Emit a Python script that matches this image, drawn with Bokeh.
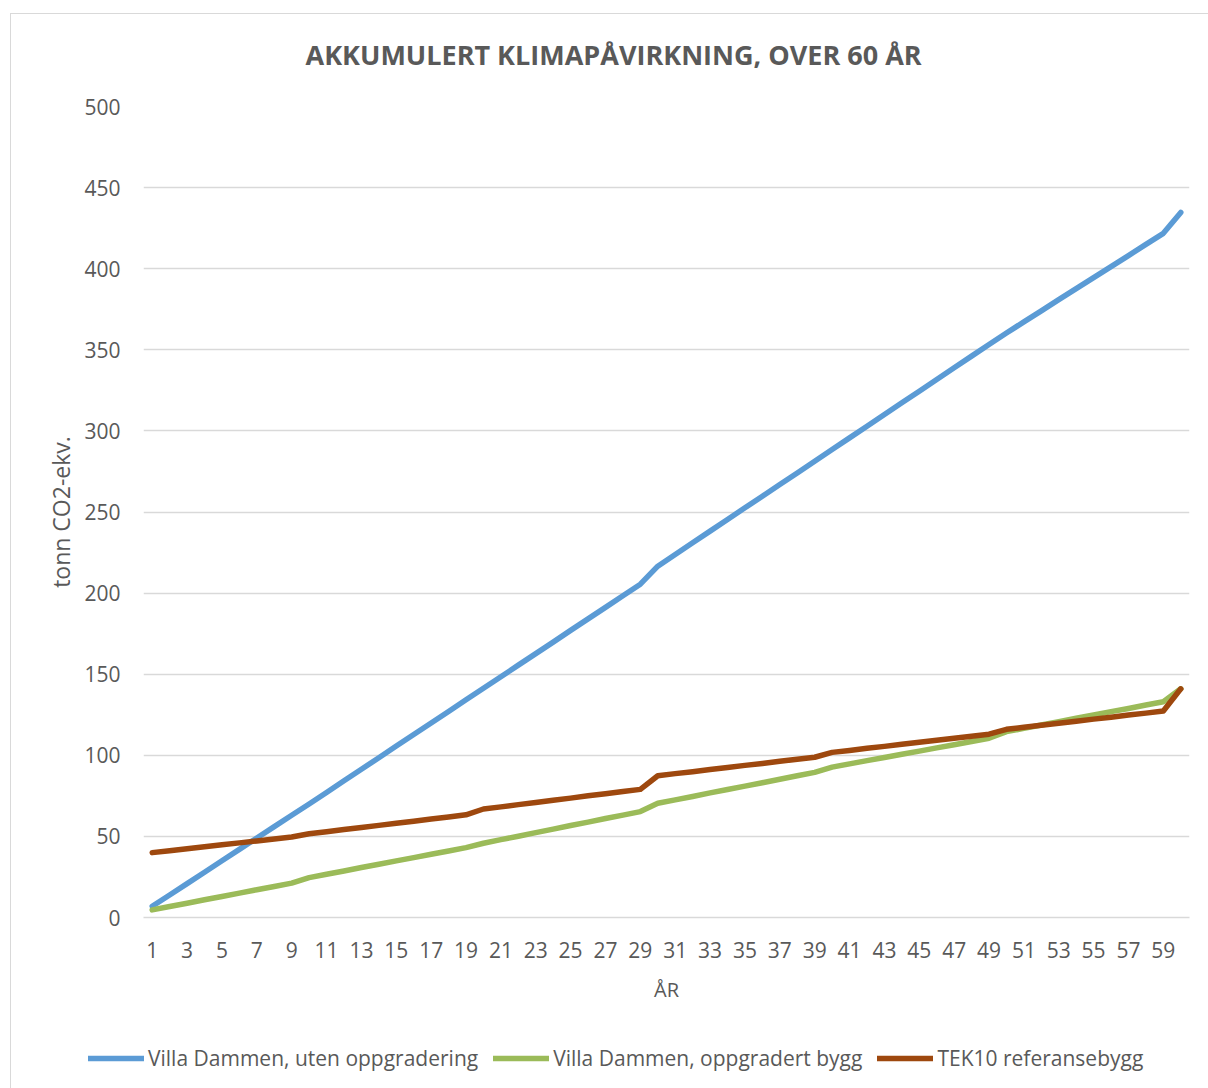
from bokeh.plotting import figure
from bokeh.models import Range1d, FixedTicker, Legend, LegendItem, Title
from bokeh.embed import file_html
from bokeh.resources import INLINE

title_text = "AKKUMULERT KLIMAPÅVIRKNING, OVER 60 ÅR"
x_label = "ÅR"
y_label = "tonn CO2-ekv."
series_names = ["Villa Dammen, uten oppgradering",
                "Villa Dammen, oppgradert bygg",
                "TEK10 referansebygg"]

years = [1, 2, 3, 4, 5, 6, 7, 8, 9, 10,
         11, 12, 13, 14, 15, 16, 17, 18, 19, 20,
         21, 22, 23, 24, 25, 26, 27, 28, 29, 30,
         31, 32, 33, 34, 35, 36, 37, 38, 39, 40,
         41, 42, 43, 44, 45, 46, 47, 48, 49, 50,
         51, 52, 53, 54, 55, 56, 57, 58, 59, 60]

uten_oppgradering = [6.9, 13.9, 20.9, 27.9, 35.0, 42.0, 49.0, 56.0, 63.0, 70.0,
                     77.1, 84.3, 91.4, 98.5, 105.7, 112.8, 119.9, 127.0, 134.2, 141.3,
                     148.4, 155.6, 162.7, 169.8, 177.0, 184.1, 191.2, 198.4, 205.5, 216.6,
                     223.8, 231.0, 238.2, 245.4, 252.6, 259.7, 266.9, 274.1, 281.3, 288.5,
                     295.7, 302.9, 310.1, 317.3, 324.5, 331.7, 338.9, 346.1, 353.3, 360.4,
                     367.2, 374.0, 380.9, 387.7, 394.5, 401.3, 408.1, 415.0, 421.8, 434.7]

oppgradert_bygg = [4.7, 6.8, 8.8, 10.9, 12.9, 15.0, 17.1, 19.1, 21.2, 24.6,
                   26.7, 28.7, 30.8, 32.8, 34.9, 36.9, 39.0, 41.0, 43.1, 45.8,
                   48.0, 50.1, 52.3, 54.5, 56.7, 58.8, 61.0, 63.1, 65.3, 70.4,
                   72.5, 74.6, 76.8, 78.9, 81.0, 83.1, 85.2, 87.4, 89.5, 92.7,
                   94.7, 96.7, 98.6, 100.6, 102.6, 104.6, 106.5, 108.5, 110.5, 114.6,
                   116.6, 118.7, 120.7, 122.8, 124.8, 126.9, 128.9, 131.0, 133.0, 141.0]

tek10_referansebygg = [40.0, 41.2, 42.4, 43.6, 44.8, 46.0, 47.2, 48.4, 49.6, 51.6,
                       52.9, 54.2, 55.5, 56.8, 58.1, 59.4, 60.7, 62.0, 63.3, 66.9,
                       68.2, 69.6, 70.9, 72.3, 73.6, 75.0, 76.3, 77.7, 79.0, 87.4,
                       88.7, 89.9, 91.2, 92.5, 93.8, 95.0, 96.3, 97.6, 98.8, 101.8,
                       103.0, 104.3, 105.5, 106.8, 108.0, 109.3, 110.5, 111.8, 113.0, 116.0,
                       117.3, 118.5, 119.8, 121.0, 122.3, 123.5, 124.8, 126.0, 127.3, 141.0]

x_ticks = [1, 3, 5, 7, 9, 11, 13, 15, 17, 19, 21, 23, 25, 27, 29,
           31, 33, 35, 37, 39, 41, 43, 45, 47, 49, 51, 53, 55, 57, 59]
y_ticks = [0, 50, 100, 150, 200, 250, 300, 350, 400, 450, 500]

colors = ["#5B9BD5", "#9BBB59", "#9E480E"]
text_color = "#595959"
grid_color = "#D9D9D9"
font = "Open Sans"
series = [uten_oppgradering, oppgradert_bygg, tek10_referansebygg]

# ---- main chart ----
p = figure(width=1208, height=1030, output_backend="svg", toolbar_location=None,
           x_range=Range1d(0.5, 60.5), y_range=Range1d(0, 500),
           min_border_left=143, min_border_right=19, min_border_top=105, min_border_bottom=113)
p.border_fill_color = None
p.outline_line_color = None
p.styles = {"box-shadow": "inset 10px 13px 0 0 #ffffff, inset 11px 14px 0 0 #d9d9d9"}

p.add_layout(Title(text=title_text, align="left", offset=162, standoff=67,
                   text_font=font, text_font_size="27px", text_font_style="bold",
                   text_color=text_color), "above")

for ys, c in zip(series, colors):
    p.line(years, ys, line_color=c, line_width=5.5, line_join="round", line_cap="round")

p.xgrid.visible = False
p.ygrid.ticker = FixedTicker(ticks=y_ticks)
p.ygrid.grid_line_color = grid_color
p.ygrid.grid_line_width = 1.5

xa = p.xaxis[0]
xa.ticker = FixedTicker(ticks=x_ticks)
xa.major_tick_line_color = None
xa.minor_tick_line_color = None
xa.axis_line_color = grid_color
xa.axis_line_width = 1.5
xa.major_label_text_font = font
xa.major_label_text_font_size = "21px"
xa.major_label_text_color = text_color
xa.major_label_standoff = 18
xa.axis_label = x_label
xa.axis_label_text_font = font
xa.axis_label_text_font_size = "20px"
xa.axis_label_text_font_style = "normal"
xa.axis_label_text_color = text_color
xa.axis_label_standoff = 15

ya = p.yaxis[0]
ya.ticker = FixedTicker(ticks=y_ticks)
ya.major_tick_line_color = None
ya.minor_tick_line_color = None
ya.axis_line_color = None
ya.major_label_text_font = font
ya.major_label_text_font_size = "21px"
ya.major_label_text_color = text_color
ya.major_label_standoff = 17
ya.axis_label = y_label
ya.axis_label_text_font = font
ya.axis_label_text_font_size = "23px"
ya.axis_label_text_font_style = "normal"
ya.axis_label_text_color = text_color
ya.axis_label_standoff = 4

# ---- legend strip (separate root, its own frame covers the full strip) ----
pl = figure(width=1208, height=58, output_backend="svg", toolbar_location=None,
            x_range=Range1d(0, 1), y_range=Range1d(0, 1),
            x_axis_type=None, y_axis_type=None,
            min_border_left=0, min_border_right=0, min_border_top=0, min_border_bottom=0)
pl.border_fill_color = None
pl.background_fill_color = None
pl.outline_line_color = None
pl.styles = {"box-shadow": "inset 10px 0 0 0 #ffffff, inset 11px 0 0 0 #d9d9d9"}

# legend-key renderers carry only the first value of each series (outside this strip's view)
legend_renderers = [pl.line(x=years[:1], y=ys[:1], line_color=c, line_width=5.5, line_cap="round")
                    for ys, c in zip(series, colors)]
legend = Legend(items=[LegendItem(label=n, renderers=[r]) for n, r in zip(series_names, legend_renderers)],
                orientation="horizontal", location=(88, 16),
                glyph_width=56, glyph_height=20, label_standoff=4, spacing=15,
                padding=0, margin=0, border_line_color=None, background_fill_alpha=0,
                label_text_font=font, label_text_font_size="21px", label_text_color=text_color)
pl.add_layout(legend, "center")

open("out.html", "w").write(file_html([p, pl], INLINE))
